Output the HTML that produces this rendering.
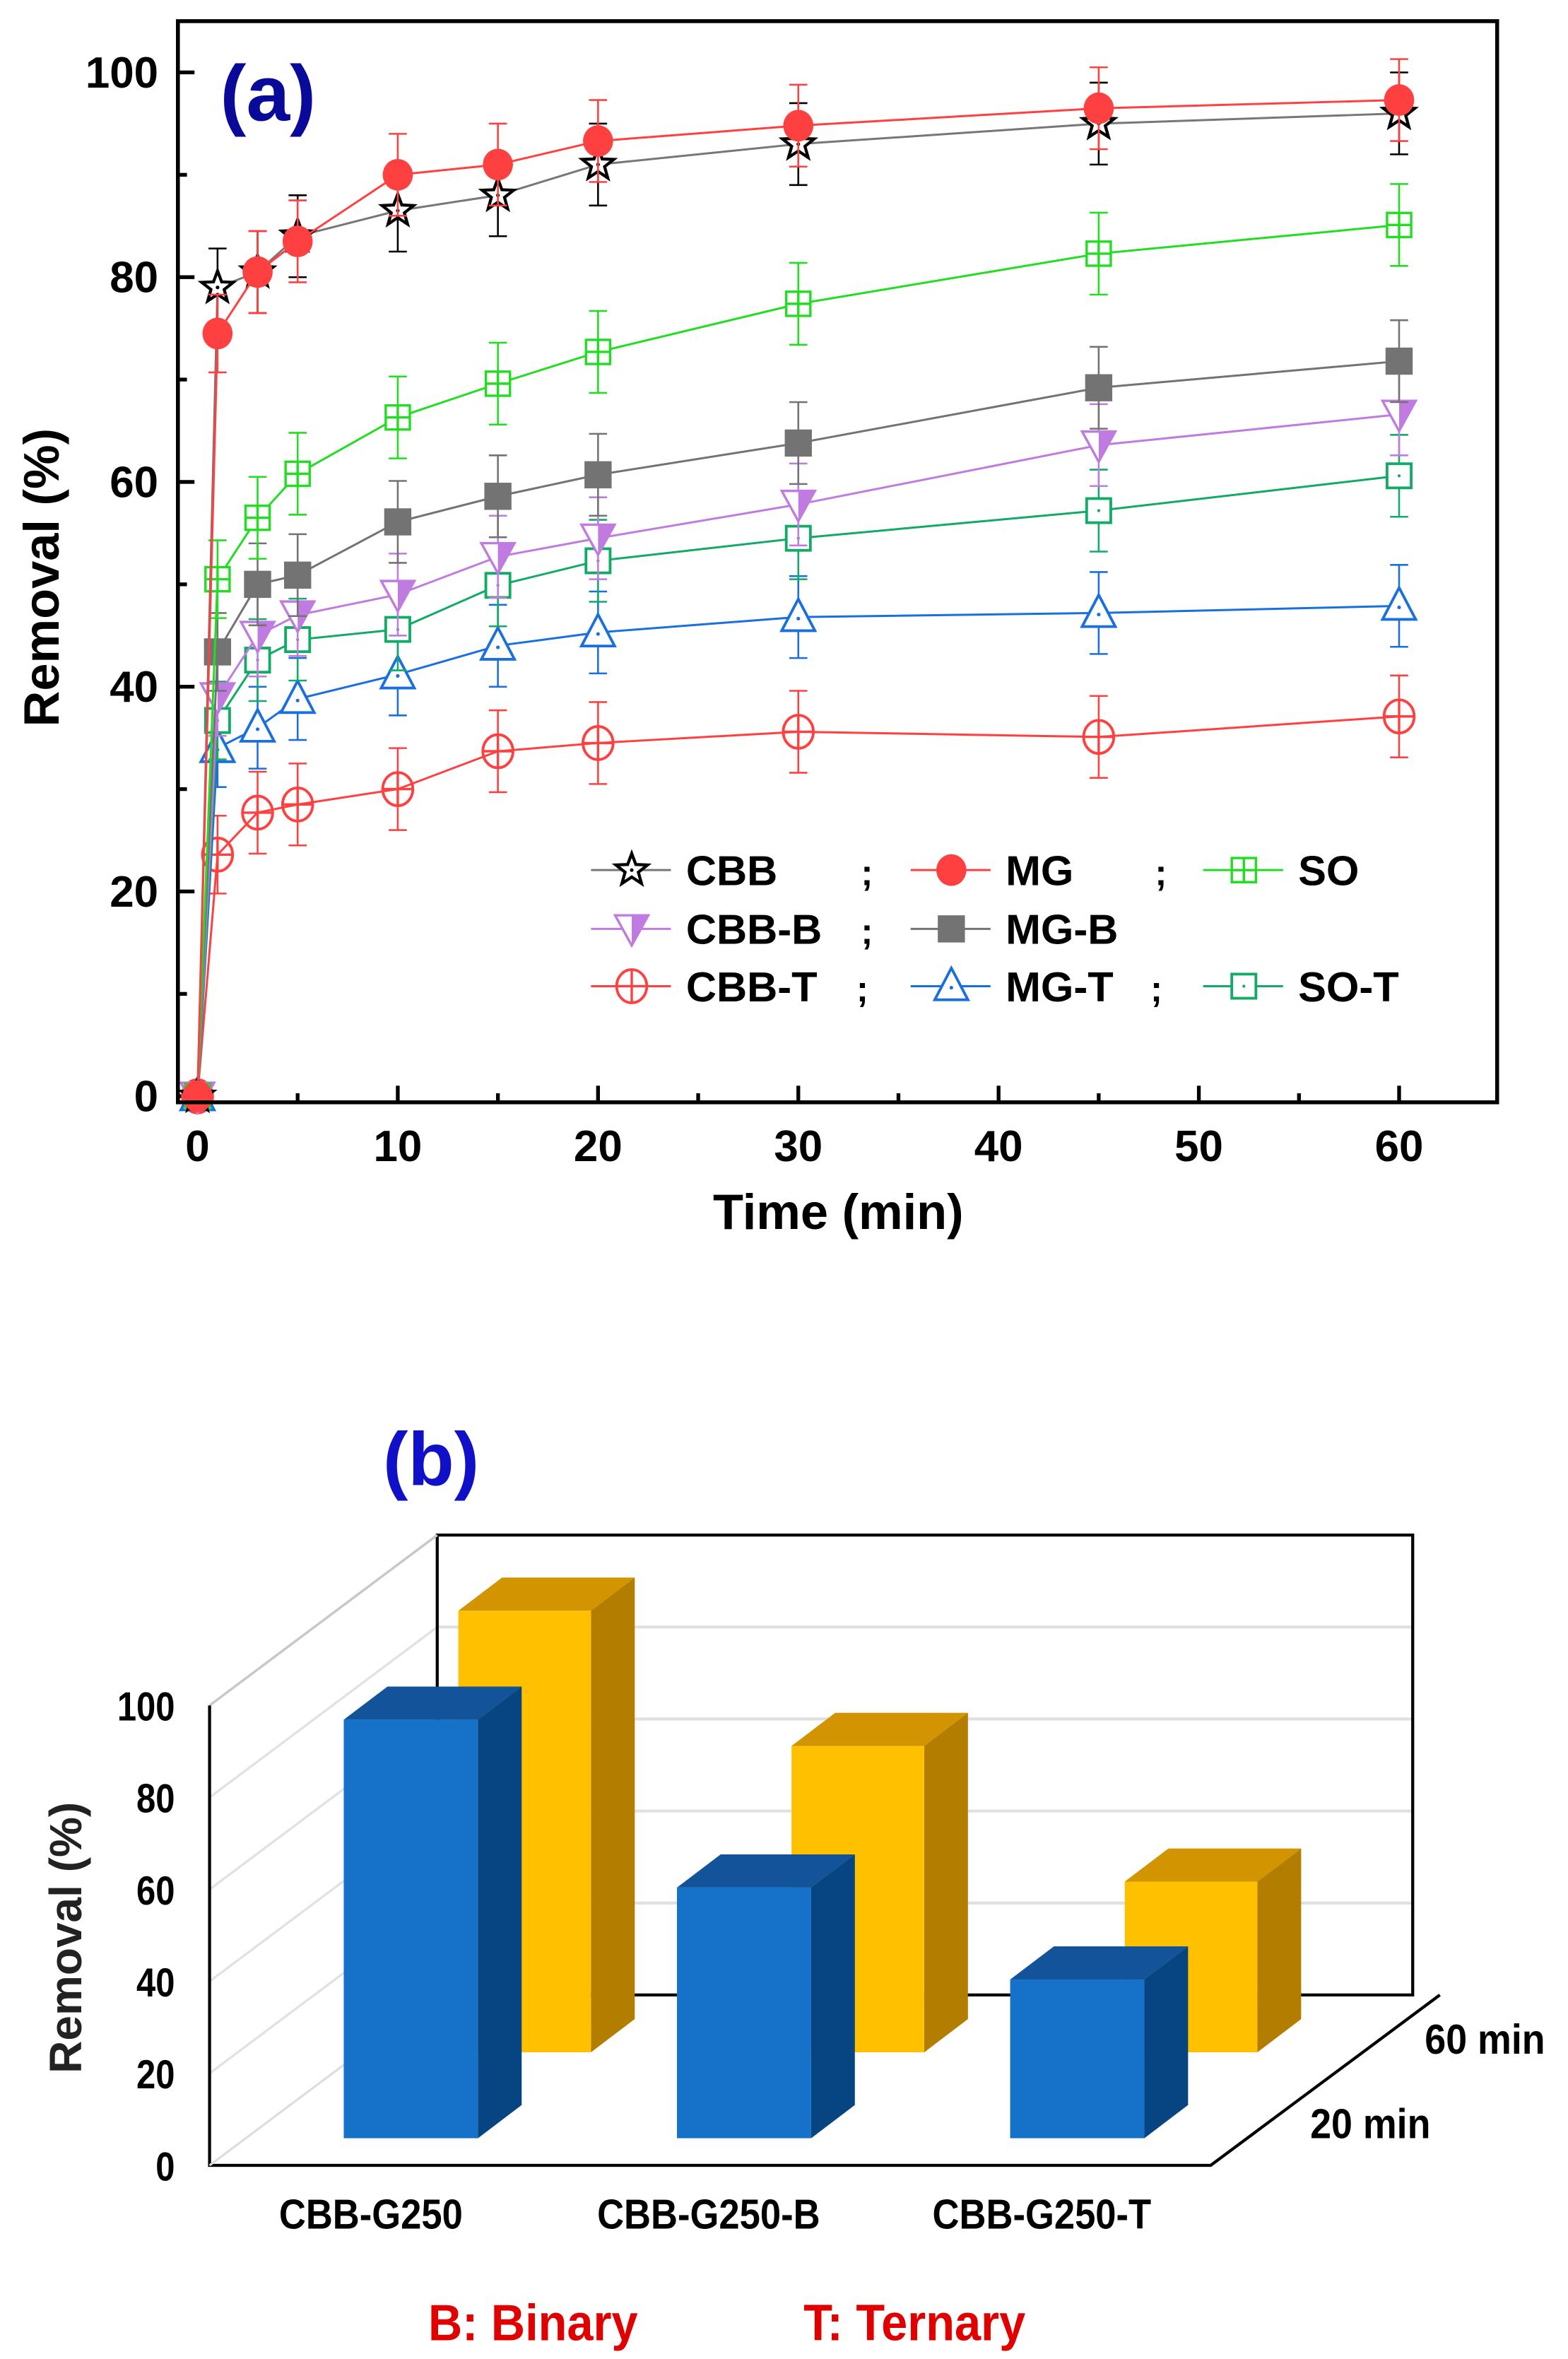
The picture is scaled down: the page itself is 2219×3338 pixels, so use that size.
<!DOCTYPE html>
<html><head><meta charset="utf-8"><style>
html,body{margin:0;padding:0;background:#fff}
svg{display:block}
text{font-family:"Liberation Sans",Arial,sans-serif;font-weight:bold}
</style></head><body>
<svg id="fig" width="2219" height="3338" viewBox="0 0 1040 1564.4" xmlns="http://www.w3.org/2000/svg">
<g id="pa"></g>
<g id="pb"></g>
</svg>
<script>
// ---------- Panel (a) data ----------
const times = [0, 1, 3, 5, 10, 15, 20, 30, 45, 60];
const cbb  = [0, 79, 80.5, 84, 86.5, 88, 91, 93, 95, 96];
const mg   = [0, 74.5, 80.5, 83.5, 90, 91, 93.3, 94.8, 96.5, 97.3];
const so   = [0, 50.5, 56.5, 60.8, 66.3, 69.6, 72.7, 77.4, 82.3, 85.1];
const mgB  = [0, 43.4, 50, 50.9, 56.1, 58.6, 60.7, 63.8, 69.2, 71.8];
const cbbB = [0, 39, 45, 47, 49, 52.7, 54.5, 57.8, 63.6, 66.6];
const soT  = [0, 36.7, 42.6, 44.6, 45.6, 49.9, 52.3, 54.5, 57.2, 60.6];
const mgT  = [0, 34, 36, 38.8, 41.2, 44, 45.3, 46.8, 47.2, 47.9];
const cbbT = [0, 23.6, 27.7, 28.5, 30, 33.7, 34.5, 35.6, 35.1, 37.1];
const errA = [0, 3.8, 4, 4, 4, 4, 4, 4, 4, 4];
const xTicks = [0, 10, 20, 30, 40, 50, 60];
const yTicks = [0, 20, 40, 60, 80, 100];
// ---------- Panel (b) data ----------
const bCats = ["CBB-G250", "CBB-G250-B", "CBB-G250-T"];
const b20 = [91, 54.5, 34.5];
const b60 = [96, 66.6, 37.1];
const bTicks = [0, 20, 40, 60, 80, 100];

const NS = "http://www.w3.org/2000/svg";
function mk(parent, tag, attrs, txt) {
  const e = document.createElementNS(NS, tag);
  for (const k in attrs) e.setAttribute(k, attrs[k]);
  if (txt !== undefined) e.textContent = txt;
  parent.appendChild(e);
  return e;
}
const pa = document.getElementById('pa');
const pb = document.getElementById('pb');

const X0 = 131, XS = 13.283, Y0 = 727, YS = 6.79;
const xs = t => X0 + t * XS;
const ys = v => Y0 - v * YS;
const L = 118, R = 993, T = 14, B = 731;

for (let t = 0; t <= 60; t += 5) {
  const major = t % 10 === 0;
  const tk = mk(pa, 'line', {x1: xs(t), x2: xs(t), y1: B, y2: B - (major ? 11 : 6), stroke: '#000', 'stroke-width': 2.5});
  
  
}
for (let v = 0; v <= 100; v += 10) {
  const major = v % 20 === 0;
  const tk = mk(pa, 'line', {x1: L, x2: L + (major ? 11 : 6), y1: ys(v), y2: ys(v), stroke: '#000', 'stroke-width': 2.5});
  
  
}
xTicks.forEach(t => {
  const e = mk(pa, 'text', {x: xs(t), y: 770, 'font-size': 29, 'text-anchor': 'middle'}, t);
  
  
});
yTicks.forEach(v => {
  const e = mk(pa, 'text', {x: 105, y: ys(v) + 10, 'font-size': 29, 'text-anchor': 'end'}, v);
  
  
});
let e;
e = mk(pa, 'text', {x: 556, y: 815, 'font-size': 33, 'text-anchor': 'middle'}, 'Time (min)');


e = mk(pa, 'text', {x: 0, y: 0, 'font-size': 33, 'text-anchor': 'middle', transform: 'translate(39,383) rotate(-90)'}, 'Removal (%)');


e = mk(pa, 'text', {x: 146, y: 80, 'font-size': 52, fill: '#0a0a9a'}, '(a)');



function marker(g, type, cx, cy, col) {
  if (type === 'star') {
    let p = [];
    for (let i = 0; i < 10; i++) {
      const a = -Math.PI / 2 + i * Math.PI / 5, rr = i % 2 ? 4.6 : 11;
      p.push((cx + rr * Math.cos(a)).toFixed(1) + ',' + (cy + rr * Math.sin(a)).toFixed(1));
    }
    mk(g, 'polygon', {points: p.join(' '), fill: '#fff', stroke: '#000', 'stroke-width': 2});
    mk(g, 'circle', {cx, cy, r: 1.2, fill: '#000'});
  } else if (type === 'fcircle') {
    mk(g, 'ellipse', {cx, cy, rx: 10, ry: 10.5, fill: col});
  } else if (type === 'psquare') {
    mk(g, 'rect', {x: cx - 8, y: cy - 8, width: 16, height: 16, fill: '#fff', stroke: col, 'stroke-width': 1.6});
    mk(g, 'path', {d: `M${cx - 8} ${cy}H${cx + 8}M${cx} ${cy - 8}V${cy + 8}`, stroke: col, 'stroke-width': 1.6});
  } else if (type === 'dtri') {
    mk(g, 'polygon', {points: `${cx - 11},${cy - 9} ${cx + 11},${cy - 9} ${cx},${cy + 11}`, fill: '#fff', stroke: col, 'stroke-width': 1.6});
    mk(g, 'polygon', {points: `${cx},${cy - 9} ${cx + 11},${cy - 9} ${cx},${cy + 11}`, fill: col});
  } else if (type === 'fsquare') {
    mk(g, 'rect', {x: cx - 9, y: cy - 9, width: 18, height: 18, fill: col});
  } else if (type === 'pcircle') {
    mk(g, 'ellipse', {cx, cy, rx: 10, ry: 11, fill: 'none', stroke: col, 'stroke-width': 1.8});
    mk(g, 'path', {d: `M${cx - 10} ${cy}H${cx + 10}M${cx} ${cy - 11}V${cy + 11}`, stroke: col, 'stroke-width': 1.6});
  } else if (type === 'utri') {
    mk(g, 'polygon', {points: `${cx},${cy - 12} ${cx + 11},${cy + 9} ${cx - 11},${cy + 9}`, fill: '#fff', stroke: col, 'stroke-width': 1.8});
    mk(g, 'circle', {cx, cy: cy + 1, r: 1.2, fill: col});
  } else if (type === 'dsquare') {
    mk(g, 'rect', {x: cx - 8, y: cy - 8, width: 16, height: 16, fill: '#fff', stroke: col, 'stroke-width': 1.8});
    mk(g, 'circle', {cx, cy, r: 1, fill: col});
  }
}

const series = [
  {name: 'CBB-T', vals: cbbT, type: 'pcircle', col: '#ff4040', lc: '#ff4040'},
  {name: 'MG-T', vals: mgT, type: 'utri', col: '#1a6fe0', lc: '#1a6fe0'},
  {name: 'SO-T', vals: soT, type: 'dsquare', col: '#11aa66', lc: '#11aa66'},
  {name: 'CBB-B', vals: cbbB, type: 'dtri', col: '#c07be0', lc: '#c07be0'},
  {name: 'MG-B', vals: mgB, type: 'fsquare', col: '#737373', lc: '#737373'},
  {name: 'SO', vals: so, type: 'psquare', col: '#22dd22', lc: '#22dd22'},
  {name: 'CBB', vals: cbb, type: 'star', col: '#000', lc: '#777'},
  {name: 'MG', vals: mg, type: 'fcircle', col: '#ff4040', lc: '#ff4040'}
];
series.forEach(s => {
  const g = mk(pa, 'g', {});
  
  
  const pts = s.vals.map((v, i) => xs(times[i]).toFixed(1) + ',' + ys(v).toFixed(1)).join(' ');
  mk(g, 'polyline', {points: pts, fill: 'none', stroke: s.lc, 'stroke-width': 1.4});
  s.vals.forEach((v, i) => {
    const x = xs(times[i]);
    const er = errA[i];
    if (er > 0) {
      const eb = mk(g, 'path', {d: `M${x} ${ys(v - er)}V${ys(v + er)}M${x - 6} ${ys(v - er)}H${x + 6}M${x - 6} ${ys(v + er)}H${x + 6}`, stroke: s.col, 'stroke-width': 1.2, fill: 'none'});
      
      
    }
    const mg2 = mk(g, 'g', {});
    
    
    marker(mg2, s.type, x, ys(v), s.col);
  });
});
e = mk(pa, 'rect', {x: L, y: T, width: R - L, height: B - T, fill: 'none', stroke: '#000', 'stroke-width': 2.6});



const legendItems = [
  ['CBB', 'star', '#000', '#777', 0, 0, ';'], ['MG', 'fcircle', '#ff4040', '#ff4040', 1, 0, ';'], ['SO', 'psquare', '#22dd22', '#22dd22', 2, 0, ''],
  ['CBB-B', 'dtri', '#c07be0', '#c07be0', 0, 1, ';'], ['MG-B', 'fsquare', '#737373', '#737373', 1, 1, ''],
  ['CBB-T', 'pcircle', '#ff4040', '#ff4040', 0, 2, ';'], ['MG-T', 'utri', '#1a6fe0', '#1a6fe0', 1, 2, ';'], ['SO-T', 'dsquare', '#11aa66', '#11aa66', 2, 2, '']
];
const colX = [392, 604, 798], rowY = [577, 616, 654], semiX = [571, 766];
legendItems.forEach(it => {
  const g = mk(pa, 'g', {});
  
  
  const x = colX[it[4]], y = rowY[it[5]];
  mk(g, 'line', {x1: x, x2: x + 53, y1: y, y2: y, stroke: it[3], 'stroke-width': 1.4});
  marker(g, it[1], x + 27, y, it[2]);
  mk(g, 'text', {x: x + 63, y: y + 10, 'font-size': 28}, it[0]);
  if (it[6]) mk(g, 'text', {x: semiX[it[4]] - (it[5] === 2 ? 3 : 0), y: y + 10, 'font-size': 24, 'font-weight': 'normal'}, ';');
});

// ---------- Panel (b) ----------
const FX = 139, FB = 1436, FU = 3.05, DX = 151, DY = -113;
const by = v => FB - v * FU;
bTicks.forEach(v => {
  if (v > 0 && v < 100) {
    const g1 = mk(pb, 'line', {x1: FX + DX, x2: 937, y1: by(v) + DY, y2: by(v) + DY, stroke: '#e0e0e0', 'stroke-width': 2});
    
    
  }
  if (v > 0) {
    const g2 = mk(pb, 'line', {x1: FX, x2: FX + DX, y1: by(v), y2: by(v) + DY, stroke: '#e2e2e2', 'stroke-width': 1.6});
    
    
  }
  const tl = mk(pb, 'text', {x: 0, y: 0, 'font-size': 27, 'text-anchor': 'end', transform: `translate(116,${by(v) + 10}) scale(0.85,1)`}, v);
  
  
});
e = mk(pb, 'path', {d: `M${FX + DX} ${by(0) + DY}V${by(100) + DY}H937V${by(0) + DY}H${FX + DX}`, fill: 'none', stroke: '#000', 'stroke-width': 2});


e = mk(pb, 'line', {x1: FX, y1: by(100), x2: FX + DX, y2: by(100) + DY, stroke: '#c8c8c8', 'stroke-width': 1.6});


e = mk(pb, 'path', {d: `M${FX} ${by(100)}V${FB}H803L${803 + DX + 1} ${FB + DY}`, fill: 'none', stroke: '#000', 'stroke-width': 2});


e = mk(pb, 'line', {x1: FX, y1: FB, x2: FX + DX, y2: FB + DY, stroke: '#ddd', 'stroke-width': 1.5});



function bar3d(x, base, v, w, dx, dy, cf, cs, ct, name) {
  const g = mk(pb, 'g', {});
  
  
  const top = base - v * FU;
  mk(g, 'polygon', {points: `${x},${top} ${x + dx},${top + dy} ${x + w + dx},${top + dy} ${x + w},${top}`, fill: ct});
  mk(g, 'polygon', {points: `${x + w},${top} ${x + w + dx},${top + dy} ${x + w + dx},${base + dy} ${x + w},${base}`, fill: cs});
  mk(g, 'rect', {x, y: top, width: w, height: base - top, fill: cf});
}
const barX20 = [228, 449, 670], barX60 = [304, 525, 746];
bCats.forEach((c, i) => {
  bar3d(barX60[i], 1361, b60[i], 88, 29, -22, '#ffc000', '#b37e00', '#d29400', 'bar-60min-' + (i + 1));
});
bCats.forEach((c, i) => {
  bar3d(barX20[i], 1418, b20[i], 89, 29, -22, '#1672c9', '#064582', '#12539a', 'bar-20min-' + (i + 1));
  const t = mk(pb, 'text', {x: 0, y: 0, 'font-size': 28, 'text-anchor': 'middle', transform: `translate(${[246, 470, 691][i]},1478) scale(0.88,1)`}, c);
  
  
});
e = mk(pb, 'text', {x: 0, y: 0, 'font-size': 28, transform: 'translate(945,1362) scale(0.9,1)'}, '60 min');


e = mk(pb, 'text', {x: 0, y: 0, 'font-size': 28, transform: 'translate(869,1418) scale(0.9,1)'}, '20 min');


e = mk(pb, 'text', {x: 0, y: 0, 'font-size': 30, 'text-anchor': 'middle', fill: '#222', transform: 'translate(54,1285) rotate(-90)'}, 'Removal (%)');


e = mk(pb, 'text', {x: 254, y: 985, 'font-size': 50, fill: '#1010c8'}, '(b)');


e = mk(pb, 'text', {x: 0, y: 0, 'font-size': 34, fill: '#e00000', transform: 'translate(284,1552) scale(0.92,1)'}, 'B: Binary');


e = mk(pb, 'text', {x: 0, y: 0, 'font-size': 34, fill: '#e00000', transform: 'translate(533,1552) scale(0.92,1)'}, 'T: Ternary');


</script>
</body></html>
